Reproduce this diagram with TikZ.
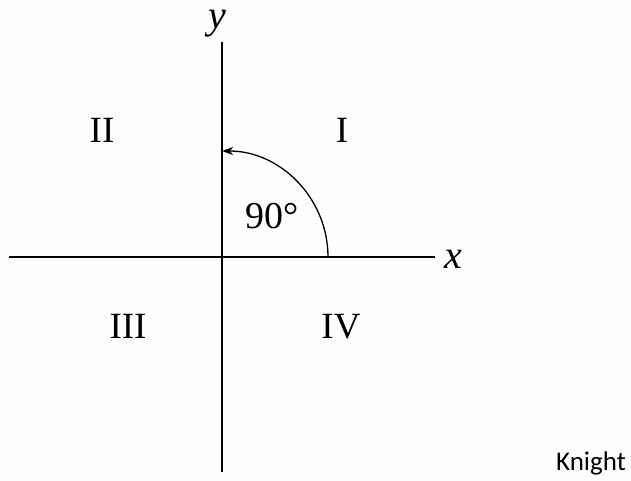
\documentclass[tikz,border=0pt]{standalone}
\usepackage{fontspec}
\setmainfont{Liberation Serif}
\newfontfamily\knightfont{Carlito}
\usetikzlibrary{arrows.meta}
\begin{document}
\begin{tikzpicture}[x=1pt,y=-1pt,
  axis/.style={line width=2pt,black},
  quadlabel/.style={anchor=base,inner sep=0pt,font=\fontsize{37}{40}\selectfont},
  arclabel/.style={anchor=base,inner sep=0pt,font=\fontsize{38}{42}\selectfont}]
\useasboundingbox (0,0) rectangle (631,481);
\fill[white!96!cyan!30!white] (0,0) rectangle (631,481);
\coordinate (O) at (222,257);
\coordinate (xl) at (9,257);
\coordinate (xr) at (435,257);
\coordinate (yt) at (222,42);
\coordinate (yb) at (222,472);
\coordinate (a0) at (328,257);
\draw[axis] (xl) -- (xr);
\draw[axis] (yt) -- (yb);
\draw[line width=1.3pt,-{Stealth[length=11pt,width=8pt,inset=3pt]}] (a0) arc[start angle=0,end angle=-90,radius=106];
\node[arclabel,font=\fontsize{40}{44}\selectfont\itshape] (ylab) at (217,29) {y};
\node[arclabel,font=\fontsize{40}{44}\selectfont\itshape] (xlab) at (453,268) {x};
\node[quadlabel] (q1) at (342,143) {I};
\node[quadlabel] (q2) at (102,143) {II};
\node[quadlabel] (q3) at (128,338) {III};
\node[quadlabel] (q4) at (341,338) {IV};
\node[arclabel] (ang) at (272,228) {90°};
\node[anchor=base,inner sep=0pt,font=\knightfont\fontsize{27}{30}\selectfont] (kn) at (591,470) {Knight};
\end{tikzpicture}
\end{document}
